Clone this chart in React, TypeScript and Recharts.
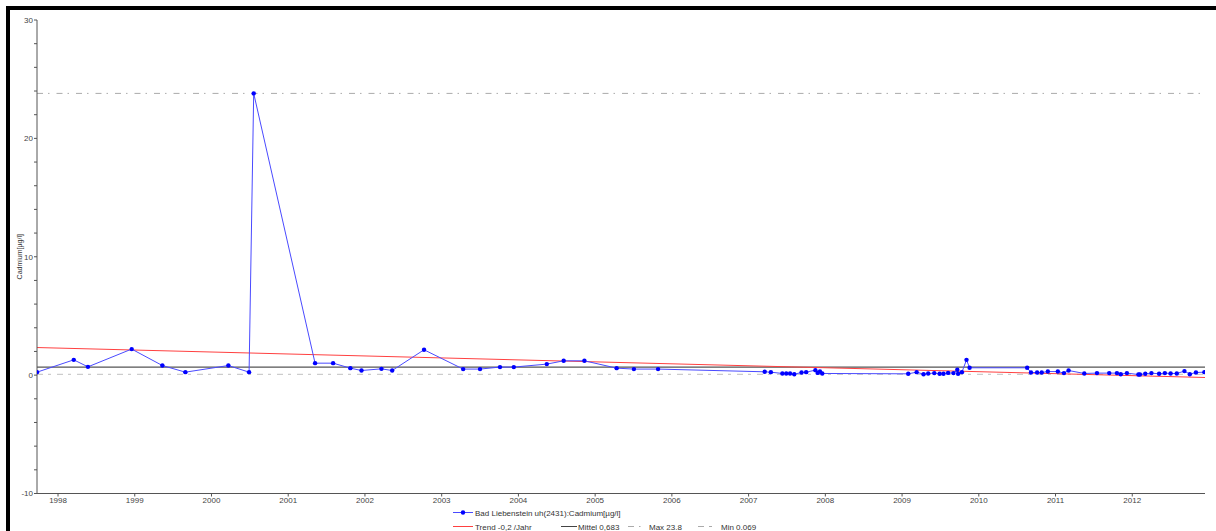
import React from "react";
import { ComposedChart, Line, XAxis, YAxis, ReferenceLine, Legend } from "recharts";

const sampleYears = [
  1997.726, 1998.205, 1998.39, 1998.96, 1999.36, 1999.66, 2000.22, 2000.49, 2000.55,
  2001.35, 2001.585, 2001.81, 2001.955, 2002.215, 2002.355, 2002.77,
  2003.28, 2003.5, 2003.76, 2003.94, 2004.37, 2004.59, 2004.86, 2005.28, 2005.505, 2005.82,
  2007.21, 2007.29, 2007.44, 2007.49, 2007.54, 2007.595, 2007.69, 2007.75, 2007.87, 2007.9,
  2007.93, 2007.96, 2009.08, 2009.19, 2009.28, 2009.34, 2009.42, 2009.49, 2009.54, 2009.6,
  2009.67, 2009.72, 2009.73, 2009.78, 2009.84, 2009.88,
  2010.63, 2010.68, 2010.76, 2010.82, 2010.9, 2011.03, 2011.11, 2011.17, 2011.375, 2011.54,
  2011.7, 2011.8, 2011.85, 2011.93, 2012.08, 2012.1, 2012.17, 2012.25, 2012.35, 2012.425,
  2012.5, 2012.58, 2012.68, 2012.75, 2012.83, 2012.94,
];
const cadmium = [
  0.25, 1.29, 0.7, 2.2, 0.81, 0.25, 0.81, 0.25, 23.8,
  1.01, 1.01, 0.59, 0.39, 0.53, 0.39, 2.14,
  0.51, 0.51, 0.68, 0.68, 0.93, 1.21, 1.21, 0.59, 0.51, 0.51,
  0.28, 0.25, 0.14, 0.14, 0.14, 0.08, 0.22, 0.25, 0.42, 0.19,
  0.3, 0.14, 0.11, 0.25, 0.08, 0.14, 0.17, 0.11, 0.11, 0.19,
  0.17, 0.45, 0.11, 0.25, 1.29, 0.62,
  0.62, 0.22, 0.22, 0.22, 0.3, 0.3, 0.17, 0.39, 0.14, 0.17,
  0.17, 0.17, 0.08, 0.17, 0.05, 0.05, 0.11, 0.17, 0.11, 0.17,
  0.14, 0.14, 0.34, 0.08, 0.22, 0.25,
];
const trendYears = [1997.726, 2012.948];
const trendValues = [2.33, -0.2];
const meanValue = 0.683;
const maxValue = 23.8;
const minValue = 0.069;
const xTicks = [1998, 1999, 2000, 2001, 2002, 2003, 2004, 2005, 2006, 2007, 2008, 2009, 2010, 2011, 2012];
const yTicks = [-10, -8, -6, -4, -2, 0, 2, 4, 6, 8, 10, 12, 14, 16, 18, 20, 22, 24, 26, 28, 30];
const seriesName = "Bad Liebenstein uh(2431):Cadmium[µg/l]";
const trendLabel = "Trend -0,2 /Jahr";
const meanLabel = "Mittel 0,683";
const maxLabel = "Max 23.8";
const minLabel = "Min 0.069";

const data = sampleYears.map((t, i) => ({ t, v: cadmium[i] }));
const trendData = trendYears.map((t, i) => ({ t, tr: trendValues[i] }));

const FONT = "'Liberation Sans', Arial, sans-serif";

const LegendContent = () => (
  <svg width={1216} height={26} style={{ display: "block" }}>
    <g fontFamily={FONT} fontSize={8} fill="#333">
      <line x1={453} x2={473} y1={7.5} y2={7.5} stroke="#4a4aff" strokeWidth={1} />
      <circle cx={463} cy={7.5} r={2.2} fill="#0000ff" />
      <text x={475} y={8.5} dominantBaseline="central">{seriesName}</text>

      <line x1={453} x2={473} y1={21.5} y2={21.5} stroke="#ff4040" strokeWidth={1} />
      <text x={475} y={22} dominantBaseline="central">{trendLabel}</text>

      <line x1={561} x2={577} y1={21.5} y2={21.5} stroke="#444" strokeWidth={1} />
      <text x={578} y={22} dominantBaseline="central">{meanLabel}</text>

      <line x1={628} x2={646} y1={21.5} y2={21.5} stroke="#aaa" strokeWidth={1} strokeDasharray="6 5 1.5 7" />
      <text x={649} y={22} dominantBaseline="central">{maxLabel}</text>

      <line x1={698} x2={716} y1={21.5} y2={21.5} stroke="#aaa" strokeWidth={1} strokeDasharray="6 5 3 6" />
      <text x={721} y={22} dominantBaseline="central">{minLabel}</text>
    </g>
  </svg>
);

export default function App() {
  return (
    <div style={{ position: "absolute", left: 0, top: 0, width: 1216, height: 531, background: "#fff" }}>
      <div
        style={{
          position: "absolute",
          left: 6,
          top: 6,
          width: 1210,
          height: 525,
          borderLeft: "4px solid #000",
          borderTop: "4px solid #000",
          boxSizing: "border-box",
        }}
      />
      <div style={{ position: "absolute", left: 0, top: 0 }}>
        <ComposedChart
          width={1216}
          height={531}
          data={data}
          margin={{ top: 20, right: 11, bottom: 22.5, left: 0 }}
        >
          <XAxis
            dataKey="t"
            type="number"
            domain={[1997.726, 2012.948]}
            ticks={xTicks}
            allowDataOverflow
            height={15}
            tickSize={3}
            tickMargin={1}
            axisLine={{ stroke: "#555", strokeWidth: 1 }}
            tickLine={{ stroke: "#555" }}
            tick={{ fontSize: 8, fill: "#444", fontFamily: FONT }}
          />
          <YAxis
            type="number"
            domain={[-10, 30]}
            ticks={yTicks}
            interval={0}
            allowDataOverflow
            width={37}
            tickSize={3}
            tickMargin={1}
            tickFormatter={(v: number) => (v % 10 === 0 ? String(v) : "")}
            axisLine={{ stroke: "#555", strokeWidth: 1 }}
            tickLine={{ stroke: "#555" }}
            tick={{ fontSize: 8, fill: "#444", fontFamily: FONT }}
            label={{
              value: "Cadmium[µg/l]",
              angle: -90,
              position: "insideLeft",
              offset: 19.5,
              style: { fontSize: 7, fill: "#333", fontFamily: FONT, textAnchor: "middle" },
            }}
          />
          <ReferenceLine y={maxValue} stroke="#aaa" strokeWidth={1} strokeDasharray="6 5 1.5 7" />
          <ReferenceLine y={minValue} stroke="#c0c0c0" strokeWidth={1} strokeDasharray="6 5 3 6" />
          <ReferenceLine y={meanValue} stroke="#555" strokeWidth={1.2} />
          <Line
            data={trendData}
            dataKey="tr"
            type="linear"
            stroke="#ff4040"
            strokeWidth={1}
            dot={false}
            isAnimationActive={false}
            legendType="none"
          />
          <Line
            dataKey="v"
            type="linear"
            stroke="#4a4aff"
            strokeWidth={1}
            dot={{ r: 2.2, fill: "#0000ff", stroke: "none" }}
            activeDot={false}
            isAnimationActive={false}
          />
          <Legend
            layout="horizontal"
            verticalAlign="middle"
            align="center"
            wrapperStyle={{ position: "absolute", left: 0, top: 505, width: 1216, height: 26 }}
            content={() => <LegendContent />}
          />
        </ComposedChart>
      </div>
    </div>
  );
}
